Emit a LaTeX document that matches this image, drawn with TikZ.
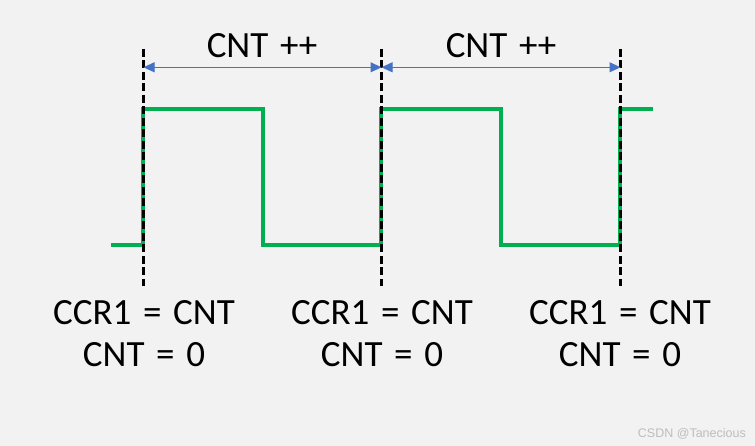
\documentclass[tikz,border=0pt]{standalone}
\usepackage{fontspec}
\setmainfont{Carlito}[WordSpace=1.4]
\newfontfamily\wmfont{Liberation Sans}
\usetikzlibrary{arrows.meta}
\definecolor{bg}{HTML}{F2F2F2}
\definecolor{wave}{HTML}{00B050}
\definecolor{arr}{HTML}{4472C4}
\definecolor{wm}{HTML}{BDBDBD}
\begin{document}
\begin{tikzpicture}[x=1pt,y=-1pt,
  wavestyle/.style={draw=wave,line width=3.6pt,line join=miter},
  markline/.style={draw=black,line width=3pt,dash pattern=on 8pt off 3.5pt},
  spanarrow/.style={draw=arr,line width=1pt,{Triangle[length=11pt,width=10pt]}-{Triangle[length=11pt,width=10pt]}},
  bigtext/.style={font=\fontsize{37}{41}\selectfont,anchor=base,inner sep=0pt,text=black},
  wmtext/.style={font=\wmfont\fontsize{12.5}{14}\selectfont,anchor=base east,inner sep=0pt,text=wm}]
  \fill[bg] (0,0) rectangle (755,446);
  \useasboundingbox (0,0) rectangle (755,446);
  % marker coordinates
  \coordinate (t1) at (143.5,49);  \coordinate (b1) at (143.5,286);
  \coordinate (t2) at (381.5,49);  \coordinate (b2) at (381.5,286);
  \coordinate (t3) at (620.5,49);  \coordinate (b3) at (620.5,286);
  \coordinate (a1) at (143.5,67.3);
  \coordinate (a2) at (381.5,67.3);
  \coordinate (a3) at (620.5,67.3);
  % waveform
  \coordinate (w0) at (111,245);
  \coordinate (w1) at (143,245);
  \coordinate (w2) at (143,109);
  \coordinate (w3) at (263,109);
  \coordinate (w4) at (263,245);
  \coordinate (w5) at (381,245);
  \coordinate (w6) at (381,109);
  \coordinate (w7) at (501,109);
  \coordinate (w8) at (501,245);
  \coordinate (w9) at (620,245);
  \coordinate (w10) at (620,109);
  \coordinate (w11) at (653,109);
  \draw[wavestyle] (w0) -- (w1) -- (w2) -- (w3) -- (w4) -- (w5) -- (w6) -- (w7) -- (w8) -- (w9) -- (w10) -- (w11);
  % dashed markers
  \draw[markline] (t1) -- (b1);
  \draw[markline] (t2) -- (b2);
  \draw[markline] (t3) -- (b3);
  % span arrows
  \draw[spanarrow] (a1) -- (a2);
  \draw[spanarrow] (a2) -- (a3);
  \node[bigtext] (cnt1) at (262,58) {CNT ++};
  \node[bigtext] (cnt2) at (501,58) {CNT ++};
  % bottom labels
  \node[bigtext] (la1) at (144,325) {CCR1 = CNT};
  \node[bigtext] (lb1) at (144,366) {CNT = 0};
  \node[bigtext] (la2) at (382,325) {CCR1 = CNT};
  \node[bigtext] (lb2) at (382,366) {CNT = 0};
  \node[bigtext] (la3) at (620,325) {CCR1 = CNT};
  \node[bigtext] (lb3) at (620,366) {CNT = 0};
  \node[wmtext] (wmk) at (746,437) {CSDN @Tanecious};
\end{tikzpicture}
\end{document}
